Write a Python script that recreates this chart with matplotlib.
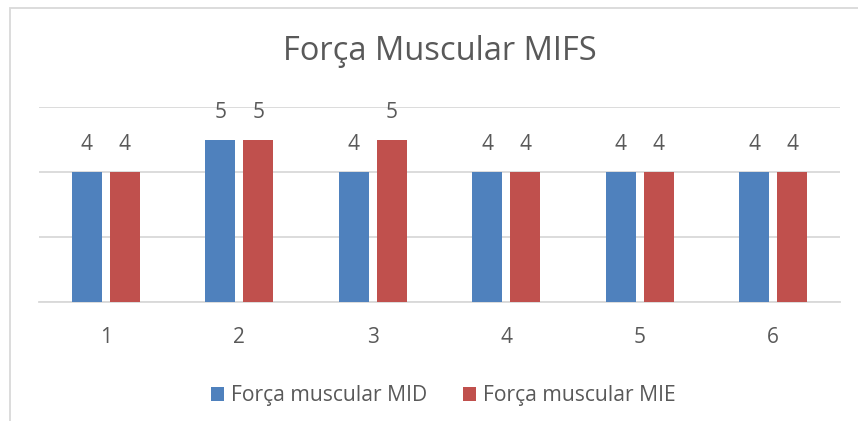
import matplotlib.pyplot as plt
import numpy as np
from matplotlib.patches import Rectangle

# === Data ===
categories = ['1', '2', '3', '4', '5', '6']
mid_values = [4, 5, 4, 4, 4, 4]
mie_values = [4, 5, 5, 4, 4, 4]
series_names = ['Força muscular MID', 'Força muscular MIE']

blue = '#4F81BD'
red = '#C0504D'
text_grey = '#595959'
grid_grey = '#D9D9D9'

plt.rcParams['font.family'] = ['Open Sans', 'DejaVu Sans']

fig = plt.figure(figsize=(8.58, 4.21), dpi=100)
ax = fig.add_axes([39 / 858, 1 - 302 / 421, 801 / 858, 195 / 421])

x = np.arange(len(categories))
width = 0.225
offset = 0.142
bars1 = ax.bar(x - offset, mid_values, width, color=blue, label=series_names[0], zorder=3)
bars2 = ax.bar(x + offset, mie_values, width, color=red, label=series_names[1], zorder=3)

for bars in (bars1, bars2):
    for b in bars:
        ax.text(b.get_x() + b.get_width() / 2, b.get_height() + 0.52, f'{int(b.get_height())}',
                ha='center', va='bottom', fontsize=15, color=text_grey)

ax.set_xlim(-0.5, len(categories) - 0.5)
ax.set_ylim(0, 6)
ax.set_yticks([0, 2, 4, 6])
ax.yaxis.grid(True, color=grid_grey, linewidth=1.3, zorder=0)
ax.tick_params(axis='y', left=False, labelleft=False)
ax.set_xticks(x)
ax.set_xticklabels(categories, fontsize=15, color=text_grey)
ax.tick_params(axis='x', length=0, pad=18)
for s in ['top', 'right', 'left']:
    ax.spines[s].set_visible(False)
ax.spines['bottom'].set_color(grid_grey)
ax.spines['bottom'].set_linewidth(1.3)

fig.text(440 / 858, 1 - 52 / 421, 'Força Muscular MIFS', ha='center', va='center',
         fontsize=23.5, color=text_grey)

leg = fig.legend(loc='center', bbox_to_anchor=(443 / 858, 1 - 396 / 421), ncol=2,
                 frameon=False, fontsize=15.2, handlelength=0.65, handleheight=0.65,
                 handletextpad=0.3, columnspacing=1.7)
for t in leg.get_texts():
    t.set_color(text_grey)

# chart border
fig.patches.append(Rectangle((10 / 858, -0.1), 1.2, 1 - 8 / 421 + 0.1, transform=fig.transFigure,
                             fill=False, edgecolor=grid_grey, linewidth=1.3))

fig.savefig('out.png', dpi=100)
